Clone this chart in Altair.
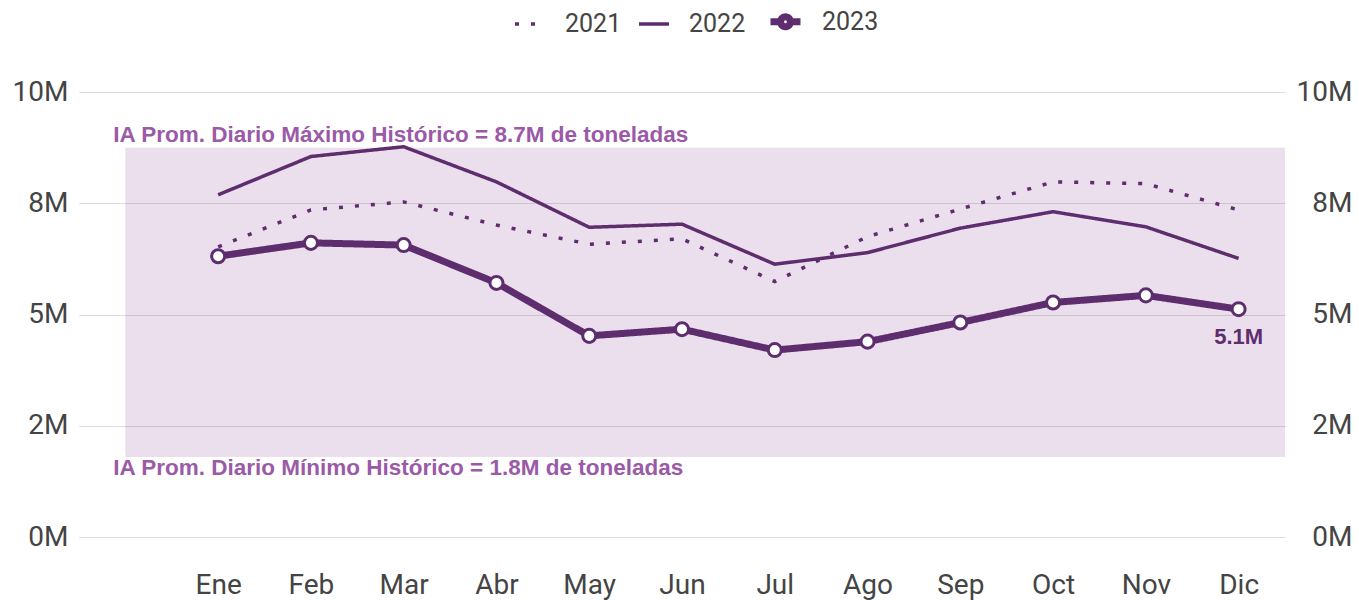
import json
import altair as alt
import pandas as pd

# ---- data (millions of tonnes) ----
months = ["Ene", "Feb", "Mar", "Abr", "May", "Jun", "Jul", "Ago", "Sep", "Oct", "Nov", "Dic"]
years = ["2021", "2022", "2023"]
v2021 = [6.52, 7.35, 7.53, 7.01, 6.58, 6.70, 5.74, 6.75, 7.37, 7.98, 7.94, 7.35]
v2022 = [7.69, 8.55, 8.77, 7.98, 6.96, 7.03, 6.13, 6.39, 6.94, 7.31, 6.97, 6.26]
v2023 = [6.31, 6.61, 6.56, 5.71, 4.52, 4.67, 4.20, 4.39, 4.82, 5.27, 5.43, 5.12]
y_ticks = [0, 2.5, 5, 7.5, 10]
y_tick_labels = ["0M", "2M", "5M", "8M", "10M"]
hist_max = 8.75
hist_min = 1.8
max_label = "IA Prom. Diario Máximo Histórico = 8.7M de toneladas"
min_label = "IA Prom. Diario Mínimo Histórico = 1.8M de toneladas"

PURPLE = "#5e2d6e"
TEXT_PURPLE = "#9a5aa7"
BAND = "#8e4a9b"
LABEL = "#444444"

rows = []
for yr, vals in zip(years, [v2021, v2022, v2023]):
    for i, (m, v) in enumerate(zip(months, vals)):
        rows.append({"idx": i, "month": m, "year": yr, "value": v})
df = pd.DataFrame(rows)
df23 = df[df.year == "2023"]
last23 = df23[df23.idx == len(months) - 1]

band_df = pd.DataFrame({"x0": [-1.0], "x1": [len(months) - 0.5], "lo": [hist_min], "hi": [hist_max]})
ann_df = pd.DataFrame({"x": [-1.13, -1.13], "y": [hist_max, hist_min], "text": [max_label, min_label],
                       "kind": ["max", "min"]})

x_label_expr = json.dumps(months) + "[datum.value]"
y_label_expr = ""
for v, l in zip(y_ticks, y_tick_labels):
    y_label_expr += f"datum.value == {v} ? '{l}' : "
y_label_expr += "''"

x_scale = alt.Scale(domain=[-1.5, len(months) - 0.5], nice=False, zero=False)
x_axis = alt.Axis(values=list(range(len(months))), labelExpr=x_label_expr, grid=False, domain=False,
                  ticks=False, labelFontSize=28, labelFont="Roboto", labelColor=LABEL, labelPadding=34,
                  title=None)
y_scale = alt.Scale(domain=[0, 10], nice=False)


def X(field):
    return alt.X(field, type="quantitative", scale=x_scale, axis=x_axis)


def y_axis(orient, pad):
    return alt.Axis(orient=orient, values=y_ticks, labelExpr=y_label_expr, grid=True, gridColor="#dcdcdc",
                    gridWidth=1, domain=False, ticks=False, labelFontSize=28, labelFont="Roboto",
                    labelColor=LABEL, labelPadding=pad, labelAlign="right", title=None)


band = alt.Chart(band_df).mark_rect(color=BAND, opacity=0.18).encode(
    x=X("x0"), x2="x1",
    y=alt.Y("lo:Q", scale=y_scale, axis=None), y2="hi",
)

# legend symbol for 2023: line with a hollow circle (unit square -1..1, circle as Bezier curves)
r, k = 0.33, 0.18
LINE_CIRCLE = (f"M-1,0L-{r},0M{r},0L1,0"
               f"M{r},0C{r},{k} {k},{r} 0,{r}C-{k},{r} -{r},{k} -{r},0"
               f"C-{r},-{k} -{k},-{r} 0,-{r}C{k},-{r} {r},-{k} {r},0Z")
legend = alt.Legend(
    orient="none", legendX=434, legendY=-89, direction="horizontal", title=None,
    symbolType="stroke", symbolStrokeColor=PURPLE, symbolSize=900, symbolOpacity=1,
    labelFontSize=25, labelFont="Roboto", labelColor=LABEL, columnPadding=10,
    labelOffset=18, labelBaseline="middle",
)

lines = alt.Chart(df).mark_line(color=PURPLE, strokeCap="butt").encode(
    x=X("idx"),
    y=alt.Y("value:Q", scale=y_scale, axis=y_axis("left", 11)),
    strokeDash=alt.StrokeDash("year:O", scale=alt.Scale(domain=years, range=[[4, 12], [1, 0], [1, 0]]),
                              legend=legend),
    strokeWidth=alt.StrokeWidth("year:O", scale=alt.Scale(type="ordinal", domain=years, range=[3.5, 3.5, 7]),
                                legend=legend),
    detail="year:N",
)

# layer with no rows whose only role is to give the legend its symbol shapes
legend_shapes = alt.Chart(df).transform_filter("false").mark_point(color=PURPLE, opacity=1).encode(
    x=X("idx"),
    y=alt.Y("value:Q", scale=y_scale, axis=None),
    shape=alt.Shape("year:O", scale=alt.Scale(domain=years, range=["stroke", "stroke", LINE_CIRCLE]),
                    legend=legend),
)

points = alt.Chart(df23).mark_point(shape="circle", filled=True, fill="white", stroke=PURPLE,
                                    strokeWidth=3, size=170, opacity=1).encode(
    x=X("idx"),
    y=alt.Y("value:Q", scale=y_scale, axis=y_axis("right", 67)),
)

end_label = alt.Chart(last23).transform_calculate(
    lbl="format(datum.value, '.1f') + 'M'"
).mark_text(font="Liberation Sans", fontWeight="bold", fontSize=22,
            color=PURPLE, dy=28, baseline="middle").encode(
    x=X("idx"),
    y=alt.Y("value:Q", scale=y_scale, axis=None),
    text="lbl:N",
)

ann_max = alt.Chart(ann_df[ann_df.kind == "max"]).mark_text(
    font="Liberation Sans", fontWeight="bold", fontSize=22.5, color=TEXT_PURPLE, align="left",
    baseline="alphabetic", dy=-6).encode(
    x=X("x"), y=alt.Y("y:Q", scale=y_scale, axis=None), text="text:N")

ann_min = alt.Chart(ann_df[ann_df.kind == "min"]).mark_text(
    font="Liberation Sans", fontWeight="bold", fontSize=22.5, color=TEXT_PURPLE, align="left",
    baseline="alphabetic", dy=18).encode(
    x=X("x"), y=alt.Y("y:Q", scale=y_scale, axis=None), text="text:N")

chart = alt.layer(band, lines, legend_shapes, points, end_label, ann_max, ann_min).resolve_axis(
    y="independent"
).properties(
    width=1206, height=445,
    autosize=alt.AutoSizeParams(type="none"),
    padding={"left": 71, "top": 84, "right": 66, "bottom": 63},
).configure_view(stroke=None)

chart.save("out.html", embed_options={"renderer": "svg", "actions": False})
